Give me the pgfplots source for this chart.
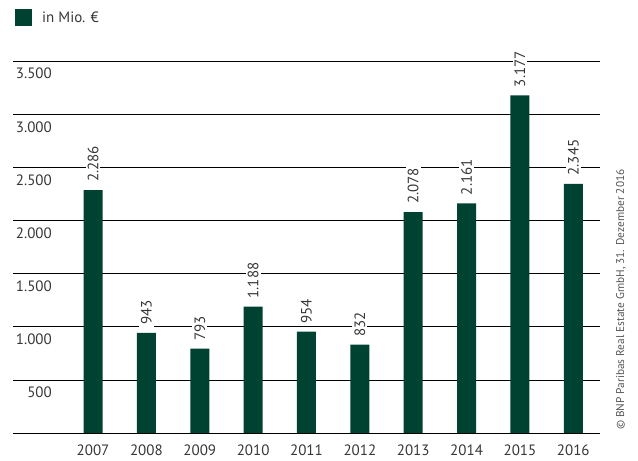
\documentclass[border=0pt]{standalone}
\usepackage{pgfplots}
\pgfplotsset{compat=1.18}
\usepackage{fontspec}
\setmainfont{PT Sans}
\definecolor{barcol}{RGB}{0,66,50}
\definecolor{txtcol}{RGB}{55,55,55}
\begin{document}
\begin{tikzpicture}
\useasboundingbox (-13pt,-28pt) rectangle (625pt,433pt);
\begin{axis}[
  at={(0,0)}, anchor=south west,
  scale only axis,
  width=587pt, height=372pt,
  xmin=-1.5, xmax=9.5,
  ymin=0, ymax=3500,
  axis x line*=bottom,
  axis y line*=left,
  y axis line style={draw=none},
  x axis line style={black, line width=0.8pt, -},
  major tick length=0pt,
  xtick=data,
  xticklabels={2007,2008,2009,2010,2011,2012,2013,2014,2015,2016},
  ytick={500,1000,...,3500},
  scaled y ticks=false,
  ymajorgrids,
  grid style={black, line width=0.7pt},
  /pgf/number format/assume math mode=true,
  /pgf/number format/1000 sep={.},
  tick label style={font=\fontsize{15}{18}\selectfont, text=txtcol},
  xticklabel style={anchor=north, inner sep=0pt, yshift=-12pt},
  yticklabel style={anchor=north east, inner sep=0pt, xshift=39pt, yshift=-7pt},
  ybar, bar width=19pt,
  clip=false,
  nodes near coords={\pgfmathprintnumber[1000 sep={.},assume math mode=true]{\pgfplotspointmeta}},
  nodes near coords style={rotate=90, anchor=west, fill=white, inner xsep=2pt, inner ysep=2pt, xshift=6pt,
     font=\fontsize{15}{18}\selectfont, text=txtcol},
  legend style={draw=none, fill=none, inner sep=0pt, anchor=west,
     at={(rel axis cs:0.0034,1.117)}, font=\fontsize{15}{18}\selectfont, text=txtcol,
     /tikz/every odd column/.append style={column sep=8pt}},
  legend image code/.code={\fill[barcol] (0pt,-8.5pt) rectangle (17pt,8.5pt);},
]
\addplot[fill=barcol, draw=none] coordinates {
 (0,2286) (1,943) (2,793) (3,1188) (4,954) (5,832) (6,2078) (7,2161) (8,3177) (9,2345)
};
\legend{in Mio. €}
\node[rotate=90, anchor=west, inner sep=0pt, font=\fontsize{11.3}{13}\selectfont, text=txtcol!85]
  at (rel axis cs:1.0358,0.008) {© BNP Paribas Real Estate GmbH, 31. Dezember 2016};
\end{axis}
\end{tikzpicture}
\end{document}
